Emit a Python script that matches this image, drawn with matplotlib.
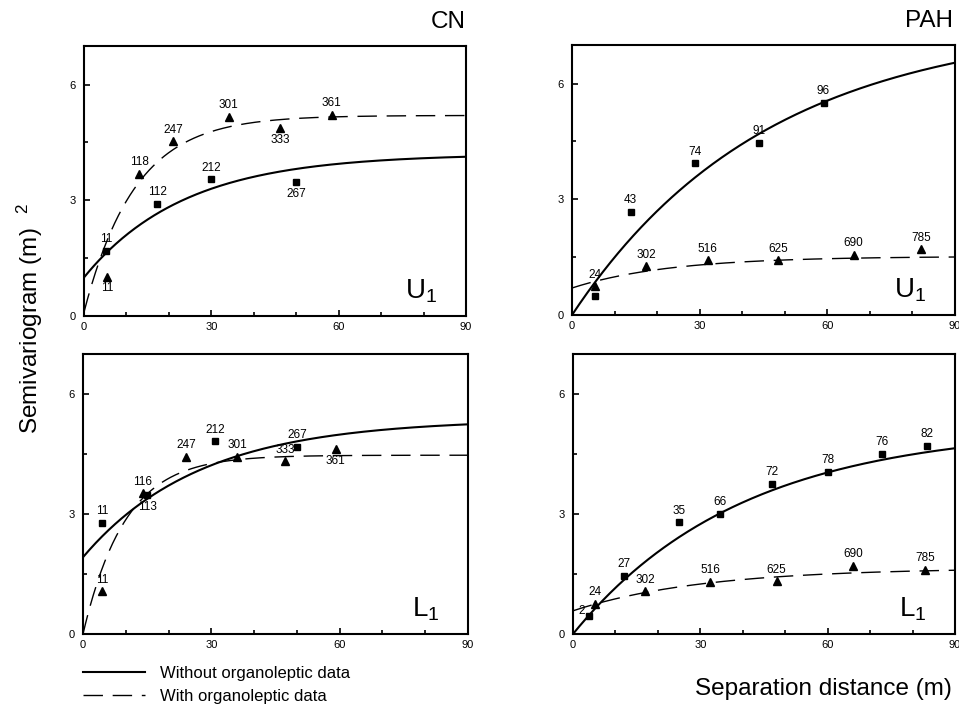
import numpy as np
import matplotlib
matplotlib.use("Agg")
import matplotlib.pyplot as plt
from matplotlib.lines import Line2D
from matplotlib.ticker import MultipleLocator

plt.rcParams['font.family'] = ['Liberation Sans', 'DejaVu Sans']
plt.rcParams['mathtext.fontset'] = 'custom'
plt.rcParams['mathtext.rm'] = 'Liberation Sans'
plt.rcParams['mathtext.it'] = 'Liberation Sans'

# ---------------- data ----------------
# CN, U1
cn_u1_sq_x = [5.3, 17.3, 30.0, 50.0]
cn_u1_sq_y = [1.69, 2.91, 3.54, 3.47]
cn_u1_sq_n = ['11', '112', '212', '267']
cn_u1_sq_pos = ['a', 'a', 'a', 'b']
cn_u1_tr_x = [5.5, 13.0, 21.0, 34.1, 46.2, 58.4]
cn_u1_tr_y = [1.02, 3.69, 4.53, 5.17, 4.87, 5.22]
cn_u1_tr_n = ['11', '118', '247', '301', '333', '361']
cn_u1_tr_pos = ['b', 'a', 'a', 'a', 'b', 'a']
cn_u1_model_without = [1.0, 3.2, 71.0]   # nugget, partial sill, range
cn_u1_model_with = [0.1, 5.1, 36.0]

# PAH, U1
pah_u1_sq_x = [5.3, 13.8, 28.8, 43.9, 59.1]
pah_u1_sq_y = [0.48, 2.67, 3.93, 4.47, 5.50]
pah_u1_sq_n = ['', '43', '74', '91', '96']
pah_u1_sq_pos = ['a', 'a', 'a', 'a', 'a']
pah_u1_tr_x = [5.3, 17.5, 31.9, 48.5, 66.2, 82.0]
pah_u1_tr_y = [0.74, 1.26, 1.42, 1.42, 1.56, 1.70]
pah_u1_tr_n = ['24', '302', '516', '625', '690', '785']
pah_u1_tr_pos = ['a', 'a', 'a', 'a', 'a', 'a']
pah_u1_model_without = [0.0, 7.6, 137.0]
pah_u1_model_with = [0.7, 0.82, 69.0]

# CN, L1
cn_l1_sq_x = [4.4, 15.0, 30.9, 50.1]
cn_l1_sq_y = [2.78, 3.47, 4.82, 4.68]
cn_l1_sq_n = ['11', '113', '212', '267']
cn_l1_sq_pos = ['a', 'b', 'a', 'a']
cn_l1_tr_x = [4.4, 14.0, 24.1, 36.1, 47.2, 59.1]
cn_l1_tr_y = [1.07, 3.52, 4.43, 4.43, 4.32, 4.62]
cn_l1_tr_n = ['11', '116', '247', '301', '333', '361']
cn_l1_tr_pos = ['a', 'a', 'a', 'a', 'a', 'b']
cn_l1_model_without = [1.92, 3.45, 82.0]
cn_l1_model_with = [0.0, 4.47, 29.4]

# PAH, L1
pah_l1_sq_x = [3.8, 11.9, 24.9, 34.7, 46.9, 60.1, 72.9, 83.4]
pah_l1_sq_y = [0.46, 1.45, 2.79, 3.01, 3.76, 4.06, 4.50, 4.70]
pah_l1_sq_n = ['2', '27', '35', '66', '72', '78', '76', '82']
pah_l1_sq_pos = ['l', 'a', 'a', 'a', 'a', 'a', 'a', 'a']
pah_l1_tr_x = [5.3, 17.0, 32.3, 48.0, 66.0, 82.9]
pah_l1_tr_y = [0.76, 1.07, 1.30, 1.32, 1.71, 1.61]
pah_l1_tr_n = ['24', '302', '516', '625', '690', '785']
pah_l1_tr_pos = ['a', 'a', 'a', 'a', 'a', 'a']
pah_l1_model_without = [0.0, 5.18, 119.0]
pah_l1_model_with = [0.58, 1.07, 91.5]

x_ticks = [0, 30, 60, 90]
y_ticks = [0, 3, 6]
legend_labels = ['Without organoleptic data', 'With organoleptic data']
y_label = r'Semivariogram (m)$^{\ \ \ 2}$'
x_label = 'Separation distance (m)'

# ---------------- drawing ----------------
W, H = 959, 712
fig = plt.figure(figsize=(W / 100, H / 100), dpi=100)

def rect(l, r, t, b):
    return [l / W, 1 - b / H, (r - l) / W, (b - t) / H]

ax_tl = fig.add_axes(rect(84, 466, 46, 316))
ax_tr = fig.add_axes(rect(572, 955, 45, 315))
ax_bl = fig.add_axes(rect(83, 468, 354, 634))
ax_br = fig.add_axes(rect(573, 955, 354, 634))

DASH = (14, 7)

def exp_model(p, h):
    c0, c, a = p
    return c0 + c * (1 - np.exp(-3.0 * h / a))

def label_points(ax, xs, ys, ns, pos):
    for x, y, n, p in zip(xs, ys, ns, pos):
        if not n:
            continue
        if p == 'a':
            ax.annotate(n, (x, y), xytext=(0, 4), textcoords='offset points',
                        ha='center', va='bottom', fontsize=8.5)
        elif p == 'b':
            ax.annotate(n, (x, y), xytext=(0, -4), textcoords='offset points',
                        ha='center', va='top', fontsize=8.5)
        else:
            ax.annotate(n, (x, y), xytext=(-3, 3), textcoords='offset points',
                        ha='right', va='center', fontsize=8.5)

def panel(ax, sqx, sqy, sqn, sqp, trx, try_, trn, trp, m_wo, m_w, tag):
    h = np.linspace(0, 90, 300)
    ax.plot(h, exp_model(m_wo, h), color='black', lw=1.5, solid_capstyle='butt')
    ax.plot(h, exp_model(m_w, h), color='black', lw=1.0, dashes=DASH)
    ax.plot(sqx, sqy, 's', color='black', ms=4.5, ls='none')
    ax.plot(trx, try_, '^', color='black', ms=5.5, ls='none')
    label_points(ax, sqx, sqy, sqn, sqp)
    label_points(ax, trx, try_, trn, trp)
    ax.set_xlim(0, 90)
    ax.set_ylim(0, 7)
    ax.set_xticks(x_ticks)
    ax.set_yticks(y_ticks)
    ax.xaxis.set_minor_locator(MultipleLocator(10))
    ax.yaxis.set_minor_locator(MultipleLocator(1.5))
    ax.tick_params(which='both', direction='in', labelsize=8, width=1.2)
    ax.tick_params(which='major', length=4)
    ax.tick_params(which='minor', length=3)
    ax.tick_params(axis='y', pad=6)
    ax.tick_params(axis='x', pad=4)
    for s in ax.spines.values():
        s.set_linewidth(1.5)
    ax.text(0.925, 0.04, r'$\mathregular{' + tag[0] + '_' + tag[1] + '}$',
            transform=ax.transAxes, ha='right', va='bottom', fontsize=20)

panel(ax_tl, cn_u1_sq_x, cn_u1_sq_y, cn_u1_sq_n, cn_u1_sq_pos,
      cn_u1_tr_x, cn_u1_tr_y, cn_u1_tr_n, cn_u1_tr_pos,
      cn_u1_model_without, cn_u1_model_with, 'U1')
panel(ax_tr, pah_u1_sq_x, pah_u1_sq_y, pah_u1_sq_n, pah_u1_sq_pos,
      pah_u1_tr_x, pah_u1_tr_y, pah_u1_tr_n, pah_u1_tr_pos,
      pah_u1_model_without, pah_u1_model_with, 'U1')
panel(ax_bl, cn_l1_sq_x, cn_l1_sq_y, cn_l1_sq_n, cn_l1_sq_pos,
      cn_l1_tr_x, cn_l1_tr_y, cn_l1_tr_n, cn_l1_tr_pos,
      cn_l1_model_without, cn_l1_model_with, 'L1')
panel(ax_br, pah_l1_sq_x, pah_l1_sq_y, pah_l1_sq_n, pah_l1_sq_pos,
      pah_l1_tr_x, pah_l1_tr_y, pah_l1_tr_n, pah_l1_tr_pos,
      pah_l1_model_without, pah_l1_model_with, 'L1')

ax_tl.text(1.0, 1.065, 'CN', transform=ax_tl.transAxes, ha='right', va='baseline', fontsize=17.5)
ax_tr.text(0.995, 1.065, 'PAH', transform=ax_tr.transAxes, ha='right', va='baseline', fontsize=17.5)

fig.text(30 / W, 1 - 318 / H, y_label, rotation=90,
         ha='center', va='center', fontsize=17.5)
fig.text(952 / W, 1 - 695 / H, x_label, ha='right', va='baseline', fontsize=17.5)

handles = [Line2D([], [], color='black', lw=1.5),
           Line2D([], [], color='black', lw=1.0, dashes=DASH)]
fig.legend(handles, legend_labels, loc='upper left',
           bbox_to_anchor=(83 / W, 1 - 666 / H), frameon=False, fontsize=12,
           handlelength=3.7, handletextpad=0.9, borderpad=0, borderaxespad=0,
           labelspacing=0.45)

fig.savefig('out.png', dpi=100)
